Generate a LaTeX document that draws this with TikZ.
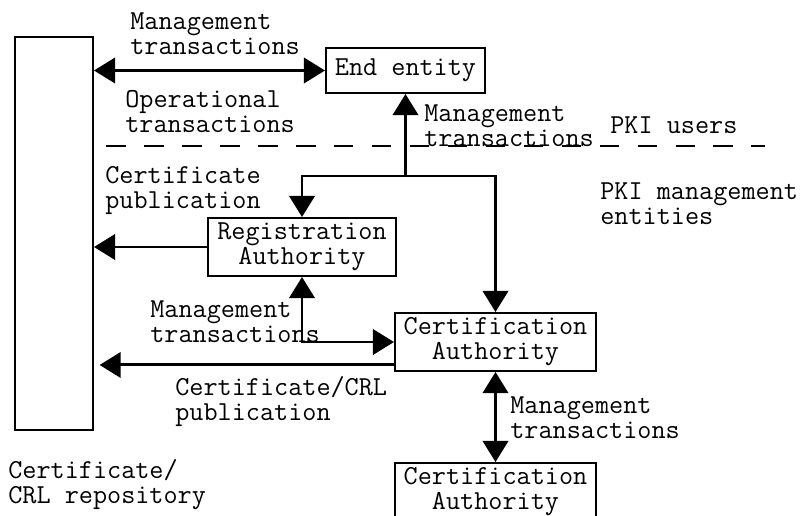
\documentclass[tikz,border=0pt]{standalone}
\usetikzlibrary{positioning,arrows.meta}
\tikzset{%
  entityBox/.style={%
    rectangle,
    draw=black,
    line width=1.4pt,
    inner sep=0pt,
    align=center
  },
  labelText/.style={%
    anchor=north west,
    inner sep=0pt,
    align=left
  },
  arrowLine/.style={%
    -{Triangle[length=15pt,width=18pt]},
    line width=2.1pt
  },
  twoWay/.style={%
    {Triangle[length=15pt,width=18pt]}-{Triangle[length=15pt,width=18pt]},
    line width=2.1pt
  },
  dashLine/.style={%
    line width=2.1pt,
    dash pattern=on 14pt off 13pt
  }
}

\begin{document}
\begin{tikzpicture}[x=0.025cm,y=-0.025cm,font=\ttfamily\fontsize{19.5pt}{17.8pt}\selectfont]
            \useasboundingbox (0,0) rectangle (800,515);

            \node[entityBox, minimum width=1.95cm, minimum height=9.825cm] (repo) at (54,233.5) {};
            \node[entityBox, minimum width=3.975cm, minimum height=1.125cm] (ee) at (405.5,70.5) {End entity};
            \node[entityBox, minimum width=4.7cm, minimum height=1.45cm] (ra) at (302,247) {Registration\\Authority};
            \node[entityBox, minimum width=5.025cm, minimum height=1.45cm] (ca) at (495.5,342) {Certification\\Authority};
            \node[entityBox, minimum width=5.025cm, minimum height=1.45cm, below=2.25cm of ca] (caTwo) {Certification\\Authority};

            \draw[dashLine] (106,146) -- (765,146);

            \coordinate (split) at (ee.south |- 0,176);
            \draw[twoWay] (repo.east |- ee.west) -- (ee.west);
            \draw[arrowLine] (split) -- (ee.south);
            \draw[arrowLine] (split) -| (ra.north);
            \draw[arrowLine] (split) -| (ca.north);
            \draw[arrowLine] (ra.west) -- (repo.east |- ra.west);
            \draw[twoWay] (ra.south) |- (ca.west);
            \coordinate (caOut) at ([yshift=5pt]ca.south west);
            \draw[arrowLine] (caOut) -- ([xshift=4pt]repo.east |- caOut);
            \draw[twoWay] (ca.south) -- (ca.south |- caTwo.north);

            \node[labelText] (eeMgmt) at (130,12) {Management\\transactions};
            \node[labelText] (eeOper) at (125,90) {Operational\\transactions};
            \node[labelText] (raPub) at (105,166) {Certificate\\publication};
            \node[labelText] (upMgmt) at (424,104) {Management\\transactions};
            \node[labelText] (pkiUsers) at (610,116) {PKI users};
            \node[labelText] (pkiMgmt) at (600,182) {PKI management\\entities};
            \node[labelText] (raMgmt) at (150,300) {Management\\transactions};
            \node[labelText] (caPub) at (175,376) {Certificate/CRL\\publication};
            \node[labelText] (caMgmt) at (510,396) {Management\\transactions};
            \node[labelText] (repoName) at (8,459) {Certificate/\\CRL repository};

        \end{tikzpicture}
\end{document}
